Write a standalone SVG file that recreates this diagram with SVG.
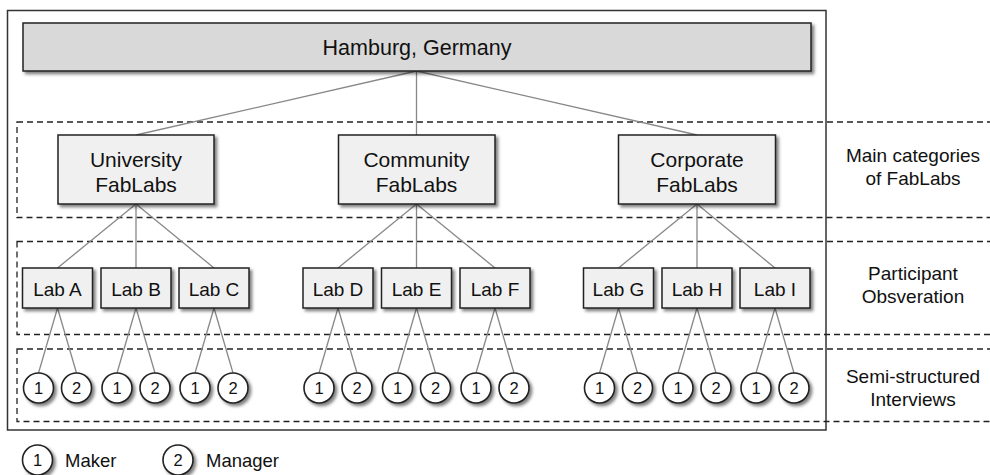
<svg xmlns="http://www.w3.org/2000/svg" width="990" height="475" viewBox="0 0 990 475">
  <defs>
    <filter id="shadow" x="-20%" y="-20%" width="150%" height="160%">
      <feDropShadow dx="2.5" dy="2.5" stdDeviation="1.6" flood-color="#000" flood-opacity="0.5"/>
    </filter>
    <style>
      text { font-family: "Liberation Sans", Arial, sans-serif; fill: #111; text-anchor: middle; }
      .frame { fill: none; stroke: #333; stroke-width: 1.5; }
      .band { fill: none; stroke: #222; stroke-width: 1.3; stroke-dasharray: 6 4; }
      .root { fill: #d9d9d9; stroke: #222; stroke-width: 1.5; filter: url(#shadow); }
      .box { fill: #f0f0f0; stroke: #222; stroke-width: 1.5; filter: url(#shadow); }
      .person { fill: #fff; stroke: #222; stroke-width: 1.6; filter: url(#shadow); }
      .edge { stroke: #888; stroke-width: 1.3; fill: none; }
      .t-root { font-size: 21.5px; }
      .t-cat { font-size: 21px; }
      .t-lab { font-size: 19px; }
      .t-num { font-size: 16.5px; }
      .t-side { font-size: 19px; }
      .t-legend { font-size: 18.5px; text-anchor: start; }
    </style>
  </defs>

  <!-- outer frame -->
  <rect class="frame" x="7.5" y="10.5" width="818.5" height="419.5"/>

  <!-- dashed level bands -->
  <g id="bands">
    <rect class="band" x="17" y="122" width="990" height="95.5"/>
    <rect class="band" x="17" y="241.5" width="990" height="93"/>
    <rect class="band" x="17" y="349" width="990" height="72.5"/>
  </g>

  <!-- connectors -->
  <g id="connectors">
    <line class="edge" x1="416.5" y1="71" x2="136" y2="135"/>
    <line class="edge" x1="416.5" y1="71" x2="416.5" y2="135"/>
    <line class="edge" x1="416.5" y1="71" x2="697" y2="135"/>

    <line class="edge" x1="136" y1="204" x2="57.5" y2="268"/>
    <line class="edge" x1="136" y1="204" x2="136" y2="268"/>
    <line class="edge" x1="136" y1="204" x2="214" y2="268"/>
    <line class="edge" x1="416.5" y1="204" x2="338" y2="268"/>
    <line class="edge" x1="416.5" y1="204" x2="416.5" y2="268"/>
    <line class="edge" x1="416.5" y1="204" x2="495" y2="268"/>
    <line class="edge" x1="697" y1="204" x2="618.5" y2="268"/>
    <line class="edge" x1="697" y1="204" x2="697" y2="268"/>
    <line class="edge" x1="697" y1="204" x2="775" y2="268"/>

    <line class="edge" x1="57.5" y1="308" x2="38.5" y2="373"/>
    <line class="edge" x1="57.5" y1="308" x2="76.5" y2="373"/>
    <line class="edge" x1="136" y1="308" x2="117" y2="373"/>
    <line class="edge" x1="136" y1="308" x2="155" y2="373"/>
    <line class="edge" x1="214" y1="308" x2="195" y2="373"/>
    <line class="edge" x1="214" y1="308" x2="233" y2="373"/>
    <line class="edge" x1="338" y1="308" x2="319" y2="373"/>
    <line class="edge" x1="338" y1="308" x2="357" y2="373"/>
    <line class="edge" x1="416.5" y1="308" x2="397.5" y2="373"/>
    <line class="edge" x1="416.5" y1="308" x2="435.5" y2="373"/>
    <line class="edge" x1="495" y1="308" x2="476" y2="373"/>
    <line class="edge" x1="495" y1="308" x2="514" y2="373"/>
    <line class="edge" x1="618.5" y1="308" x2="599.5" y2="373"/>
    <line class="edge" x1="618.5" y1="308" x2="637.5" y2="373"/>
    <line class="edge" x1="697" y1="308" x2="678" y2="373"/>
    <line class="edge" x1="697" y1="308" x2="716" y2="373"/>
    <line class="edge" x1="775" y1="308" x2="756" y2="373"/>
    <line class="edge" x1="775" y1="308" x2="794" y2="373"/>
  </g>

  <!-- root -->
  <g id="hamburg">
    <rect class="root" x="23" y="23" width="788" height="48"/>
    <text class="t-root" x="417" y="55">Hamburg, Germany</text>
  </g>

  <!-- categories -->
  <g id="university">
    <rect class="box" x="58" y="135" width="156" height="69"/>
    <text class="t-cat" x="136" y="166.5">University</text>
    <text class="t-cat" x="136" y="191.5">FabLabs</text>
  </g>
  <g id="community">
    <rect class="box" x="338.5" y="135" width="156.5" height="69"/>
    <text class="t-cat" x="416.5" y="166.5">Community</text>
    <text class="t-cat" x="416.5" y="191.5">FabLabs</text>
  </g>
  <g id="corporate">
    <rect class="box" x="618.5" y="135" width="157" height="69"/>
    <text class="t-cat" x="697" y="166.5">Corporate</text>
    <text class="t-cat" x="697" y="191.5">FabLabs</text>
  </g>

  <!-- labs -->
  <g id="lab-a"><rect class="box" x="22.5" y="268" width="70" height="40"/><text class="t-lab" x="57.5" y="295.5">Lab A</text></g>
  <g id="lab-b"><rect class="box" x="101" y="268" width="70" height="40"/><text class="t-lab" x="136" y="295.5">Lab B</text></g>
  <g id="lab-c"><rect class="box" x="179" y="268" width="70" height="40"/><text class="t-lab" x="214" y="295.5">Lab C</text></g>
  <g id="lab-d"><rect class="box" x="303" y="268" width="70" height="40"/><text class="t-lab" x="338" y="295.5">Lab D</text></g>
  <g id="lab-e"><rect class="box" x="381.5" y="268" width="70" height="40"/><text class="t-lab" x="416.5" y="295.5">Lab E</text></g>
  <g id="lab-f"><rect class="box" x="460" y="268" width="70" height="40"/><text class="t-lab" x="495" y="295.5">Lab F</text></g>
  <g id="lab-g"><rect class="box" x="583.5" y="268" width="70" height="40"/><text class="t-lab" x="618.5" y="295.5">Lab G</text></g>
  <g id="lab-h"><rect class="box" x="662" y="268" width="70" height="40"/><text class="t-lab" x="697" y="295.5">Lab H</text></g>
  <g id="lab-i"><rect class="box" x="740" y="268" width="70" height="40"/><text class="t-lab" x="775" y="295.5">Lab I</text></g>

  <!-- interviewees: 1 = maker, 2 = manager -->
  <g id="a-1"><circle class="person" cx="38.5" cy="388" r="15"/><text class="t-num" x="38.5" y="394">1</text></g>
  <g id="a-2"><circle class="person" cx="76.5" cy="388" r="15"/><text class="t-num" x="76.5" y="394">2</text></g>
  <g id="b-1"><circle class="person" cx="117" cy="388" r="15"/><text class="t-num" x="117" y="394">1</text></g>
  <g id="b-2"><circle class="person" cx="155" cy="388" r="15"/><text class="t-num" x="155" y="394">2</text></g>
  <g id="c-1"><circle class="person" cx="195" cy="388" r="15"/><text class="t-num" x="195" y="394">1</text></g>
  <g id="c-2"><circle class="person" cx="233" cy="388" r="15"/><text class="t-num" x="233" y="394">2</text></g>
  <g id="d-1"><circle class="person" cx="319" cy="388" r="15"/><text class="t-num" x="319" y="394">1</text></g>
  <g id="d-2"><circle class="person" cx="357" cy="388" r="15"/><text class="t-num" x="357" y="394">2</text></g>
  <g id="e-1"><circle class="person" cx="397.5" cy="388" r="15"/><text class="t-num" x="397.5" y="394">1</text></g>
  <g id="e-2"><circle class="person" cx="435.5" cy="388" r="15"/><text class="t-num" x="435.5" y="394">2</text></g>
  <g id="f-1"><circle class="person" cx="476" cy="388" r="15"/><text class="t-num" x="476" y="394">1</text></g>
  <g id="f-2"><circle class="person" cx="514" cy="388" r="15"/><text class="t-num" x="514" y="394">2</text></g>
  <g id="g-1"><circle class="person" cx="599.5" cy="388" r="15"/><text class="t-num" x="599.5" y="394">1</text></g>
  <g id="g-2"><circle class="person" cx="637.5" cy="388" r="15"/><text class="t-num" x="637.5" y="394">2</text></g>
  <g id="h-1"><circle class="person" cx="678" cy="388" r="15"/><text class="t-num" x="678" y="394">1</text></g>
  <g id="h-2"><circle class="person" cx="716" cy="388" r="15"/><text class="t-num" x="716" y="394">2</text></g>
  <g id="i-1"><circle class="person" cx="756" cy="388" r="15"/><text class="t-num" x="756" y="394">1</text></g>
  <g id="i-2"><circle class="person" cx="794" cy="388" r="15"/><text class="t-num" x="794" y="394">2</text></g>

  <!-- level captions -->
  <g id="caption-categories">
    <text class="t-side" x="913" y="161.5">Main categories</text>
    <text class="t-side" x="913" y="184.5">of FabLabs</text>
  </g>
  <g id="caption-observation">
    <text class="t-side" x="913" y="280">Participant</text>
    <text class="t-side" x="913" y="303">Obsveration</text>
  </g>
  <g id="caption-interviews">
    <text class="t-side" x="913" y="383">Semi-structured</text>
    <text class="t-side" x="913" y="405.5">Interviews</text>
  </g>

  <!-- legend -->
  <g id="legend-maker">
    <circle class="person" cx="37.5" cy="460" r="15"/>
    <text class="t-num" x="37.5" y="466">1</text>
    <text class="t-legend" x="65" y="466.5">Maker</text>
  </g>
  <g id="legend-manager">
    <circle class="person" cx="178" cy="460" r="15"/>
    <text class="t-num" x="178" y="466">2</text>
    <text class="t-legend" x="206" y="466.5">Manager</text>
  </g>
</svg>
